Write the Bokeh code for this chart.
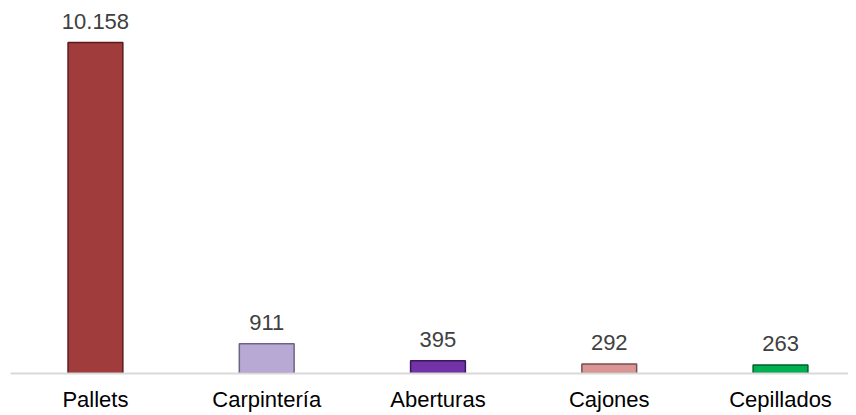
from bokeh.plotting import figure
from bokeh.models import ColumnDataSource, Range1d, FixedTicker
from bokeh.embed import file_html
from bokeh.resources import INLINE
from bokeh.core.properties import value

categories = ["Pallets", "Carpintería", "Aberturas", "Cajones", "Cepillados"]
values = [10158, 911, 395, 292, 263]
labels = ["10.158", "911", "395", "292", "263"]
colors = ["#A03C3C", "#B8A8D4", "#7233A6", "#D99694", "#00B050"]
edges = ["#5A1A1A", "#6E6282", "#3A1560", "#7A5050", "#006030"]

xs = list(range(len(categories)))
src = ColumnDataSource(dict(x=xs, top=values, label=labels, color=colors, edge=edges))

p = figure(width=848, height=415, output_backend="svg", toolbar_location=None,
           x_range=Range1d(-0.496, 4.397), y_range=Range1d(0, 11201),
           min_border_left=10, min_border_right=0, min_border_top=8, min_border_bottom=42)
p.outline_line_color = None
p.grid.visible = False
p.yaxis.visible = False

p.vbar(x="x", top="top", bottom=0, width=0.32, fill_color="color", line_color="edge",
       line_width=1.5, source=src)

p.text(x="x", y="top", text="label", source=src, text_align="center", text_baseline="alphabetic",
       y_offset=-21, text_font=value("Liberation Sans"), text_font_size="22px", text_color="#404040")

xa = p.xaxis[0]
xa.ticker = FixedTicker(ticks=xs)
xa.major_label_overrides = {i: c for i, c in enumerate(categories)}
xa.axis_line_color = "#D9D9D9"
xa.axis_line_width = 2
xa.major_tick_line_color = None
xa.minor_tick_line_color = None
xa.major_label_standoff = 7
xa.major_label_text_font = "Liberation Sans"
xa.major_label_text_font_size = "22px"
xa.major_label_text_color = "#000000"

open("out.html", "w").write(file_html(p, INLINE))
